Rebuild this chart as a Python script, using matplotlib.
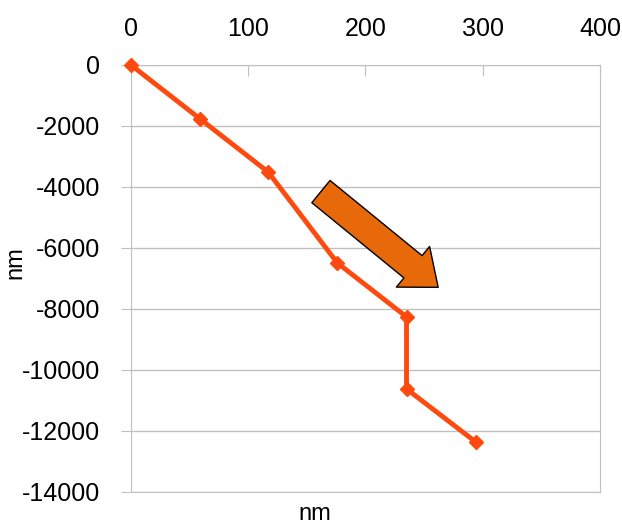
import matplotlib.pyplot as plt

plt.rcParams['font.family'] = ['Liberation Sans', 'DejaVu Sans']
plt.rcParams['axes.unicode_minus'] = False

x_nm = [0, 59, 117, 176, 235, 235, 294]
y_nm = [0, -1770, -3510, -6490, -8260, -10620, -12360]
x_ticks = [0, 100, 200, 300, 400]
y_ticks = [0, -2000, -4000, -6000, -8000, -10000, -12000, -14000]
arrow_tail = (162, -4150)
arrow_tip = (262, -7290)

fig = plt.figure(figsize=(6.22, 5.25), dpi=100)
ax = fig.add_axes([0.2106, 0.0629, 0.754, 0.8133])

ax.plot(x_nm, y_nm, color='#FF4A0F', linewidth=3.5, marker='D', markersize=7,
        clip_on=False, zorder=3)

ax.annotate('', xy=arrow_tip, xytext=arrow_tail,
            arrowprops=dict(arrowstyle='simple,head_width=2.1,head_length=1.3,tail_width=1.15',
                            fc='#E8690A', ec='black', lw=1, mutation_scale=18,
                            shrinkA=0, shrinkB=0), zorder=4)

ax.set_xlim(0, 400)
ax.set_ylim(-14000, 0)
ax.set_xticks(x_ticks)
ax.set_yticks(y_ticks)
ax.xaxis.tick_top()
ax.tick_params(axis='x', direction='in', length=8, color='#c0c0c0', labelsize=18, pad=17)
ax.tick_params(axis='y', direction='out', length=7, color='#c0c0c0', labelsize=18, pad=15)
ax.yaxis.grid(True, color='#c0c0c0', linewidth=1)
for s in ax.spines.values():
    s.set_color('#c0c0c0')

fig.text(0.506, 0.0, 'nm', ha='center', va='bottom', fontsize=17)
fig.text(0.025, 0.5, 'nm', ha='center', va='center', rotation=90, fontsize=17)

plt.savefig('out.png', dpi=100)
